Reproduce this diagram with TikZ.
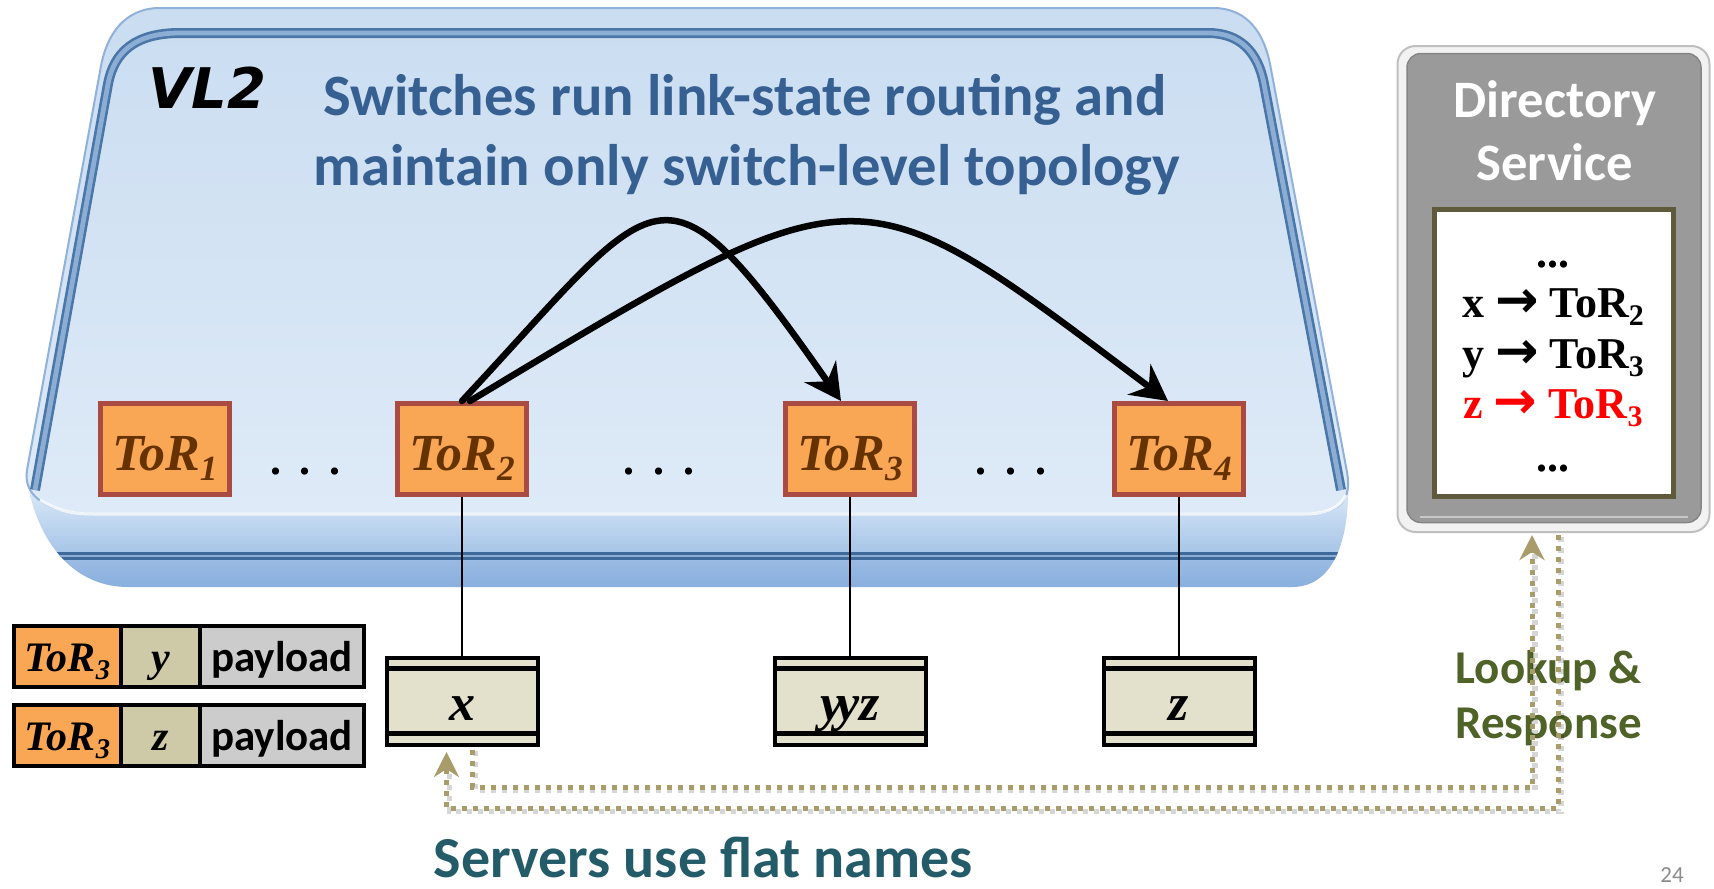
\documentclass[tikz,border=0pt]{standalone}
\usepackage{fontspec}
\setmainfont{Liberation Serif}
\newfontfamily\calfont{Carlito}
\newfontfamily\dejafont{DejaVu Sans}
\usetikzlibrary{arrows.meta}
\definecolor{torfill}{HTML}{F9A755}
\definecolor{torline}{HTML}{A94B43}
\definecolor{torbrown}{HTML}{663300}
\definecolor{titleblue}{HTML}{376092}
\definecolor{servteal}{HTML}{235B69}
\definecolor{lookgreen}{HTML}{4F6228}
\definecolor{servfill}{HTML}{E3E0CC}
\definecolor{khaki}{HTML}{CEC9A6}
\definecolor{paygray}{HTML}{CCCCCC}
\definecolor{dashtan}{HTML}{A89C6B}
\definecolor{dirgray}{HTML}{9A9A9A}
\definecolor{dirline}{HTML}{5F5A3C}
\definecolor{trayedge}{HTML}{8FB1DA}
\definecolor{traytop}{HTML}{CADDF1}
\definecolor{traybot}{HTML}{DEEAF7}
\definecolor{banddark}{HTML}{4A76A8}
\definecolor{bandlight}{HTML}{8CADD4}
\definecolor{frontA}{HTML}{E3EEFA}
\definecolor{frontB}{HTML}{A6C5E8}
\definecolor{frontC}{HTML}{88AFDE}
\definecolor{frontline}{HTML}{3F6B9C}
\definecolor{pagegray}{HTML}{8C8C8C}
\newcommand{\mysub}[1]{\raisebox{-0.2em}{\scalebox{0.68}{#1}}}
\newcommand{\myarr}{{\dejafont\bfseries\fontsize{26}{26}\selectfont →}}
\begin{document}
\begin{tikzpicture}[x=0.5pt,y=-0.5pt,
  every node/.style={inner sep=0pt},
  torbox/.style={draw=torline, fill=torfill, line width=2.5pt, minimum width=64.5pt, minimum height=45.5pt,
     text=torbrown, text height=21pt, text depth=0pt, font=\fontsize{26}{26}\selectfont\bfseries\itshape},
  servbox/.style={draw=black, fill=servfill, line width=2pt, minimum width=75.5pt, minimum height=43.5pt,
     text height=18.5pt, text depth=0pt, font=\fontsize{26}{26}\selectfont\bfseries\itshape,
     path picture={
       \draw[line width=2.5pt] ([yshift=-5.25pt]path picture bounding box.north west) -- ([yshift=-5.25pt]path picture bounding box.north east);
       \draw[line width=2.5pt] ([yshift=6pt]path picture bounding box.south west) -- ([yshift=6pt]path picture bounding box.south east);}},
  cellbase/.style={draw=black, line width=2pt, minimum height=30.5pt, text height=15pt, text depth=0pt},
  celltor/.style={cellbase, fill=torfill, minimum width=53.5pt, font=\fontsize{21}{21}\selectfont\bfseries\itshape},
  cellname/.style={cellbase, fill=khaki, minimum width=39.5pt, font=\fontsize{21}{21}\selectfont\bfseries\itshape},
  cellpay/.style={cellbase, fill=paygray, minimum width=82pt, font=\calfont\fontsize{21.5}{21.5}\selectfont\bfseries},
  titletext/.style={text=titleblue, font=\calfont\fontsize{29.3}{29.3}\selectfont\bfseries},
  dirtitle/.style={text=white, font=\calfont\fontsize{26.3}{26.3}\selectfont\bfseries},
  entry/.style={font=\fontsize{22}{22}\selectfont\bfseries},
  dotstext/.style={font=\fontsize{22}{22}\selectfont\bfseries},
  arcarrow/.style={line width=3.25pt, line cap=round, -{Stealth[length=18pt, width=19pt, inset=6pt]}},
  dashline/.style={draw=dashtan, line width=2.5pt, dash pattern=on 2.5pt off 3pt},
  dashshadow/.style={draw=black, opacity=0.16, line width=2.8pt, dash pattern=on 2.5pt off 3pt},
  dashtip/.style={-{Stealth[length=12.5pt, width=12.5pt, inset=4pt, color=dashtan, fill=dashtan]}}
]
\useasboundingbox (0,0) rectangle (1714,889);
\fill[white] (0,0) rectangle (1714,889);

% ---------- tray: front face ----------
\begin{scope}
  \clip (30,480) -- (1349,480) -- (1348,500) .. controls (1346,548) and (1330,587) .. (1292,587)
        -- (128,587) .. controls (75,587) and (42,545) .. (30,495) -- cycle;
  \shade[top color=frontA, bottom color=frontB] (0,480) rectangle (1400,553);
  \fill[frontline] (0,552) rectangle (1400,560);
  \fill[bandlight] (0,555) rectangle (1400,557);
  \shade[top color=frontC!85!white, bottom color=frontC] (0,560) rectangle (1400,588);
\end{scope}
% ---------- tray: top face ----------
\shadedraw[top color=traytop, bottom color=traybot, draw=trayedge, line width=1pt]
  (27,470) -- (101,66) .. controls (107,34) and (125,8) .. (160,8) -- (1213,8)
  .. controls (1248,8) and (1264,34) .. (1270,64) -- (1347,472)
  .. controls (1352,500) and (1340,514) .. (1305,514) -- (95,514)
  .. controls (55,514) and (22,500) .. (27,470) -- cycle;
\draw[white, line width=1.5pt, opacity=0.85] (40,500) .. controls (60,512) and (75,514) .. (95,514) -- (1305,514)
  .. controls (1325,514) and (1340,508) .. (1346,495);
\draw[banddark, line width=5pt, line join=round] (35,490) -- (108,84) .. controls (114,52) and (135,33) .. (180,33)
  -- (1208,33) .. controls (1240,33) and (1258,52) .. (1264,84) -- (1341,490);
\draw[bandlight, line width=2.4pt, line join=round] (35,490) -- (108,84) .. controls (114,52) and (135,33) .. (180,33)
  -- (1208,33) .. controls (1240,33) and (1258,52) .. (1264,84) -- (1341,490);

% ---------- texts on tray ----------
\node[anchor=base west, font=\dejafont\fontsize{28}{28}\selectfont\bfseries\itshape] (vl2) at (148,108) {VL2};
\node[titletext, anchor=base] (t1) at (745,115) {Switches run link-state routing and};
\node[titletext, anchor=base] (t2) at (747,185) {maintain only switch-level topology};

% ---------- ToR switches ----------
\node[torbox] (tor1) at (165,449) {ToR\mysub{1}};
\node[torbox] (tor2) at (462,449) {ToR\mysub{2}};
\node[torbox] (tor3) at (850,449) {ToR\mysub{3}};
\node[torbox] (tor4) at (1179,449) {ToR\mysub{4}};
\node[dotstext, anchor=base] (dots1) at (305.5,474) {.\hspace{9.5pt}.\hspace{9.5pt}.};
\node[dotstext, anchor=base] (dots2) at (659,474) {.\hspace{9.5pt}.\hspace{9.5pt}.};
\node[dotstext, anchor=base] (dots3) at (1011,474) {.\hspace{9.5pt}.\hspace{9.5pt}.};

% ---------- arcs ----------
\draw[arcarrow] (tor2.north) .. controls +(200,-214) and +(-182,-260) .. ([xshift=-4.5pt]tor3.north);
\draw[arcarrow] ([xshift=4pt]tor2.north) .. controls +(398,-239) and +(-315,-236) .. ([xshift=-5.5pt]tor4.north);

% ---------- servers ----------
\node[servbox] (servx) at (462,701.5) {x};
\node[servbox] (servy) at (850,701.5) {y\kern-0.13em yz};
\node[servbox] (servz) at (1179,701.5) {z};
\draw[line width=1pt] (tor2.south) -- (servx.north);
\draw[line width=1pt] (tor3.south) -- (servy.north);
\draw[line width=1pt] (tor4.south) -- (servz.north);

% ---------- packets ----------
\node[celltor] (p1a) at (67.5,656.5) {ToR\mysub{3}};
\node[cellname] (p1b) at (160.5,656.5) {y};
\node[cellpay] (p1c) at (282,656.5) {payload};
\node[celltor] (p2a) at (67.5,735.5) {ToR\mysub{3}};
\node[cellname] (p2b) at (160.5,735.5) {z};
\node[cellpay] (p2c) at (282,735.5) {payload};

% ---------- directory service ----------
\node[draw=black!25, fill=black!5, line width=1pt, rounded corners=9pt, minimum width=156pt, minimum height=243pt] (dir) at (1553.5,289) {};
\node[draw=black!48, fill=dirgray, line width=0.75pt, rounded corners=7pt, minimum width=147pt, minimum height=234.5pt] (dirg) at (1554,288) {};
\draw[black!22, line width=0.8pt] ([xshift=7pt,yshift=3pt]dirg.south west) -- ([xshift=-7pt,yshift=3pt]dirg.south east);
\node[draw=dirline, fill=white, line width=2.5pt, minimum width=119.5pt, minimum height=143.5pt] (dirl) at (1554,353) {};
\node[dirtitle, anchor=base] (dt1) at (1555,117) {Directory};
\node[dirtitle, anchor=base] (dt2) at (1555,180) {Service};
\node[entry, anchor=base] (e0) at (1553,267) {...};
\node[entry, anchor=base] (e1) at (1553,317) {x \myarr{} ToR\mysub{2}};
\node[entry, anchor=base] (e2) at (1553,368) {y \myarr{} ToR\mysub{3}};
\node[entry, anchor=base, text=red] (e3) at (1553,418) {z \myarr{} ToR\mysub{3}};
\node[entry, anchor=base] (e4) at (1553,471) {...};

% ---------- bottom texts ----------
\node[anchor=base, text=servteal, font=\calfont\fontsize{29}{29}\selectfont\bfseries] (srv) at (703.5,877) {Servers use flat names};
\node[anchor=base, text=lookgreen, font=\calfont\fontsize{23.5}{23.5}\selectfont\bfseries] (lk1) at (1548.5,683) {Lookup \&};
\node[anchor=base, text=lookgreen, font=\calfont\fontsize{23.5}{23.5}\selectfont\bfseries] (lk2) at (1548.5,738) {Response};
\node[anchor=base, text=pagegray, font=\calfont\fontsize{11.5}{11.5}\selectfont] (pg) at (1672,882) {24};

% ---------- lookup / response dotted arrows ----------
\draw[dashshadow, transform canvas={shift={(1.5pt,-1.8pt)}}] ([xshift=5.25pt]servx.south) -- ++(0,40) -| ([xshift=-10.75pt,yshift=-8pt]dir.south);
\draw[dashshadow, transform canvas={shift={(1.5pt,-1.8pt)}}] ([xshift=2.25pt]dir.south) -- ++(0,275) -| ([xshift=-7.75pt,yshift=-8pt]servx.south);
\draw[dashline, dashtip, shorten <=1.5pt, shorten >=1pt] ([xshift=5.25pt]servx.south) -- ++(0,40) -| ([xshift=-10.75pt]dir.south);
\draw[dashline, dashtip, shorten <=1pt, shorten >=2.5pt] ([xshift=2.25pt]dir.south) -- ++(0,275) -| ([xshift=-7.75pt]servx.south);
\end{tikzpicture}
\end{document}
